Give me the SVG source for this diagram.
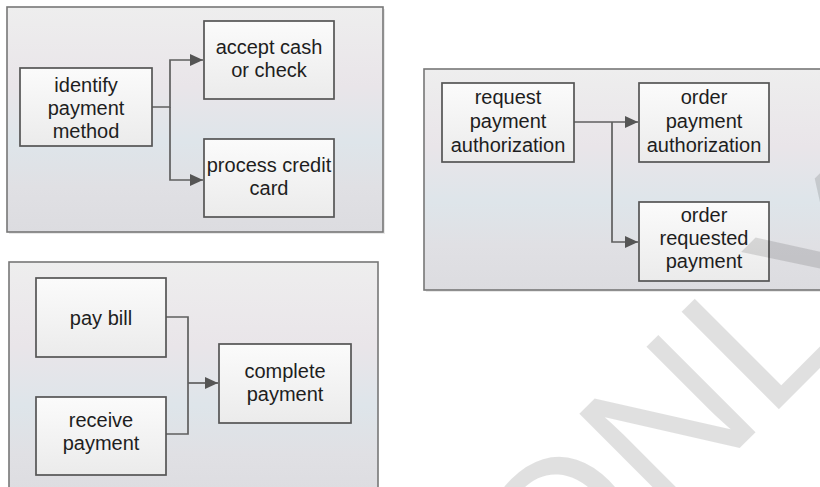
<svg xmlns="http://www.w3.org/2000/svg" width="820" height="487" viewBox="0 0 820 487">
  <defs>
    <linearGradient id="panelGrad" x1="0" y1="0" x2="0" y2="1">
      <stop offset="0" stop-color="#eeeeee"/>
      <stop offset="0.35" stop-color="#e9e5e9"/>
      <stop offset="0.6" stop-color="#dee5ea"/>
      <stop offset="0.8" stop-color="#e0e0e4"/>
      <stop offset="1" stop-color="#dcdce0"/>
    </linearGradient>
    <linearGradient id="nodeGrad" x1="0" y1="0" x2="0" y2="1">
      <stop offset="0" stop-color="#fbfbfb"/>
      <stop offset="1" stop-color="#ebebeb"/>
    </linearGradient>
    <marker id="arrow" markerUnits="userSpaceOnUse" markerWidth="14" markerHeight="12" refX="13" refY="6" orient="auto">
      <path d="M0,0 L13,6 L0,12 z" fill="#555555"/>
    </marker>
  </defs>
  <style>
    .panel { fill: url(#panelGrad); stroke: #777777; stroke-width: 1.6; }
    .node rect { fill: url(#nodeGrad); stroke: #555555; stroke-width: 1.7; }
    .node text { font-family: "Liberation Sans", Arial, sans-serif; font-size: 20px; fill: #1e1e1e; text-anchor: middle; }
    .conn { fill: none; stroke: #5f5f5f; stroke-width: 1.7; }
  </style>
  <rect width="820" height="487" fill="#ffffff"/>

  <!-- panels -->
  <g id="panels">
    <rect x="9" y="9" width="376" height="225" fill="#d8d8d8" opacity="0.6"/>
    <rect class="panel" x="7" y="7" width="376" height="225"/>
    <rect x="426" y="71" width="410" height="221" fill="#d8d8d8" opacity="0.6"/>
    <rect class="panel" x="424" y="69" width="410" height="221"/>
    <rect class="panel" x="9" y="262" width="369" height="240"/>
  </g>

  <!-- connectors -->
  <g id="connectors">
    <path class="conn" d="M152,107 H170 V60 H203" marker-end="url(#arrow)"/>
    <path class="conn" d="M170,107 V180 H203" marker-end="url(#arrow)"/>
    <path class="conn" d="M574,122 H612 H638" marker-end="url(#arrow)"/>
    <path class="conn" d="M612,122 V242 H638" marker-end="url(#arrow)"/>
    <path class="conn" d="M166,317 H188 V434 H166"/>
    <path class="conn" d="M188,383 H218" marker-end="url(#arrow)"/>
  </g>

  <!-- panel 1 -->
  <g id="identify" class="node">
    <rect x="20" y="68" width="132" height="78"/>
    <text x="86" y="92">identify</text>
    <text x="86" y="115">payment</text>
    <text x="86" y="138">method</text>
  </g>
  <g id="accept" class="node">
    <rect x="204" y="21" width="130" height="78"/>
    <text x="269" y="54">accept cash</text>
    <text x="269" y="77">or check</text>
  </g>
  <g id="process" class="node">
    <rect x="204" y="139" width="130" height="78"/>
    <text x="269" y="172">process credit</text>
    <text x="269" y="195">card</text>
  </g>

  <!-- panel 2 -->
  <g id="request" class="node">
    <rect x="442" y="83" width="132" height="79"/>
    <text x="508" y="104">request</text>
    <text x="508" y="128">payment</text>
    <text x="508" y="152">authorization</text>
  </g>
  <g id="orderAuth" class="node">
    <rect x="639" y="83" width="130" height="79"/>
    <text x="704" y="104">order</text>
    <text x="704" y="128">payment</text>
    <text x="704" y="152">authorization</text>
  </g>
  <g id="orderReq" class="node">
    <rect x="639" y="202" width="130" height="79"/>
    <text x="704" y="222">order</text>
    <text x="704" y="245">requested</text>
    <text x="704" y="268">payment</text>
  </g>

  <!-- panel 3 -->
  <g id="payBill" class="node">
    <rect x="36" y="278" width="130" height="79"/>
    <text x="101" y="325">pay bill</text>
  </g>
  <g id="receive" class="node">
    <rect x="36" y="397" width="130" height="78"/>
    <text x="101" y="427">receive</text>
    <text x="101" y="450">payment</text>
  </g>
  <g id="complete" class="node">
    <rect x="219" y="344" width="132" height="79"/>
    <text x="285" y="378">complete</text>
    <text x="285" y="401">payment</text>
  </g>

  <!-- watermark -->
  <g id="watermark">
    <text transform="rotate(-45)" x="-55" y="840" font-family="Liberation Sans, Arial, sans-serif" font-size="200" fill="#000000" fill-opacity="0.12">ONLY</text>
  </g>
</svg>
